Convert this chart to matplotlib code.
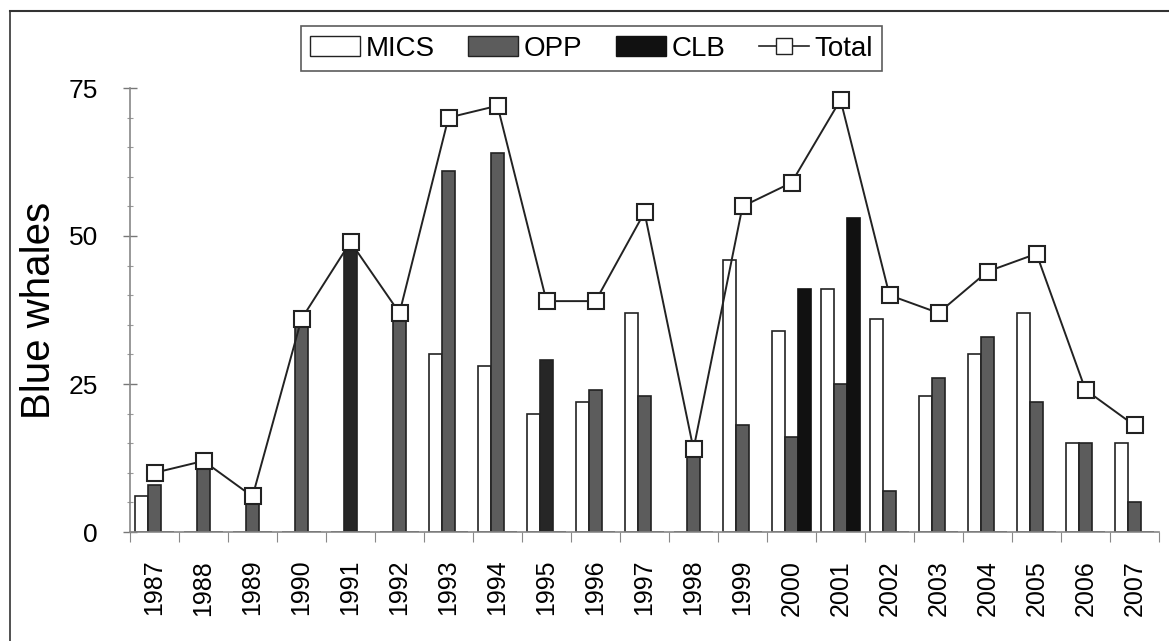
import matplotlib.pyplot as plt
import numpy as np
from matplotlib.patches import Patch
from matplotlib.lines import Line2D

years = ['1987', '1988', '1989', '1990', '1991', '1992', '1993', '1994', '1995', '1996', '1997',
         '1998', '1999', '2000', '2001', '2002', '2003', '2004', '2005', '2006', '2007']
mics = [6, 0, 0, 0, 0, 0, 30, 28, 20, 22, 37, 0, 46, 34, 41, 36, 23, 30, 37, 15, 15]
opp = [8, 11, 5, 35, 48, 36, 61, 64, 29, 24, 23, 13, 18, 16, 25, 7, 26, 33, 22, 15, 5]
clb = [0, 0, 0, 0, 0, 0, 0, 0, 0, 0, 0, 0, 0, 41, 53, 0, 0, 0, 0, 0, 0]
total = [10, 12, 6, 36, 49, 37, 70, 72, 39, 39, 54, 14, 55, 59, 73, 40, 37, 44, 47, 24, 18]

plt.rcParams['font.family'] = ['Liberation Sans', 'DejaVu Sans']

x = np.arange(len(years))
w = 0.265

fig = plt.figure(figsize=(11.69, 6.41), dpi=100)
ax = fig.add_axes([130/1169, 109/641, 1029/1169, 444/641])

# dunkler gedruckte OPP-Balken (1991, 1995)
opp_colors = ['#5c5c5c'] * len(years)
opp_colors[4] = '#262626'
opp_colors[8] = '#262626'

ax.bar(x - w, mics, w, color='white', edgecolor='#222222', linewidth=1.2)
ax.bar(x, opp, w, color=opp_colors, edgecolor='#222222', linewidth=1.2)
ax.bar(x + w, clb, w, color='#111111', edgecolor='#111111', linewidth=1.2)
ax.plot(x, total, color='#222222', lw=1.4, marker='s', ms=12, mfc='white',
        mec='#222222', mew=1.5, zorder=5)

ax.set_xlim(-0.5, len(years) - 0.5)
ax.set_ylim(0, 75)
ax.set_yticks([0, 25, 50, 75])
ax.set_yticks(np.arange(0, 76, 5), minor=True)
ax.set_xticks(x)
ax.set_xticklabels(years, rotation=90)
ax.set_xticks(np.arange(-0.5, len(years), 1), minor=True)

ax.tick_params(axis='y', which='major', direction='inout', length=10, width=1,
               color='#777777', labelsize=19, pad=18)
ax.tick_params(axis='y', which='minor', direction='inout', length=5, width=0.8,
               color='#999999')
ax.tick_params(axis='x', which='major', length=0, labelsize=18, pad=20)
ax.tick_params(axis='x', which='minor', direction='out', length=7, width=0.8,
               color='#888888')

for s in ['top', 'right']:
    ax.spines[s].set_visible(False)
for s in ['left', 'bottom']:
    ax.spines[s].set_color('#888888')
    ax.spines[s].set_linewidth(1.2)

ax.set_ylabel('Blue whales', fontsize=29)
ax.yaxis.set_label_coords(-0.07, 0.5)

handles = [Patch(facecolor='white', edgecolor='#222222'),
           Patch(facecolor='#5c5c5c', edgecolor='#222222'),
           Patch(facecolor='#111111', edgecolor='#111111'),
           Line2D([], [], color='#222222', lw=1.2, marker='s', ms=11,
                  mfc='white', mec='#222222')]
leg = fig.legend(handles, ['MICS', 'OPP', 'CLB', 'Total'], ncol=4,
                 loc='center', bbox_to_anchor=(591.5/1169, 1 - 48.5/641),
                 frameon=True, fancybox=False, edgecolor='#333333',
                 prop={'size': 20}, handlelength=1.8, handletextpad=0.2,
                 columnspacing=1.2, borderpad=0.35)
leg.get_frame().set_linewidth(1.2)

# Rahmen oben und links
fig.add_artist(Line2D([10/1169, 1], [1 - 11/641, 1 - 11/641], color='#333333', lw=1.5))
fig.add_artist(Line2D([10/1169, 10/1169], [0, 1 - 11/641], color='#333333', lw=1.2))

plt.savefig('out.png', dpi=100)
